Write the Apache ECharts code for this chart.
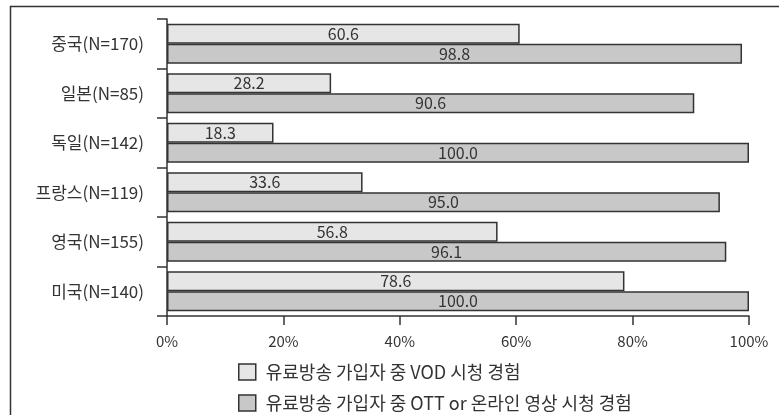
<!DOCTYPE html>
<html>
<head>
<meta charset="utf-8">
<script src="https://cdn.jsdelivr.net/npm/echarts@6/dist/echarts.min.js"></script>
<style>
  html, body { margin: 0; padding: 0; background: #fff; }
  #chart { width: 779px; height: 415px; }
</style>
</head>
<body>
<div id="chart"></div>
<script>
// Countries, top to bottom, with sample sizes
const categories = ['중국(N=170)', '일본(N=85)', '독일(N=142)', '프랑스(N=119)', '영국(N=155)', '미국(N=140)'];
// Share of pay-TV subscribers (%)
const vodValues = [60.6, 28.2, 18.3, 33.6, 56.8, 78.6];
const ottValues = [98.8, 90.6, 100.0, 95.0, 96.1, 100.0];
const seriesNames = ['유료방송 가입자 중 VOD 시청 경험', '유료방송 가입자 중 OTT or 온라인 영상 시청 경험'];
const xTicks = [0, 20, 40, 60, 80, 100];

const FONT = '"Noto Sans CJK KR", "Noto Sans", sans-serif';
const INK = '#333';

const barLabel = {
  show: true,
  position: 'inside',
  color: INK,
  fontFamily: FONT,
  fontSize: 16,
  formatter: p => p.value.toFixed(1)
};

const chart = echarts.init(document.getElementById('chart'), null, { renderer: 'canvas' });
chart.setOption({
  animation: false,
  backgroundColor: '#fff',
  graphic: [{
    type: 'rect',
    shape: { x: 10.5, y: 6.5, width: 900, height: 600 },
    style: { fill: 'none', stroke: INK, lineWidth: 1.5 },
    silent: true
  }],
  grid: { left: 167, top: 19, right: 30, height: 297 },
  xAxis: {
    type: 'value',
    min: 0, max: 100, interval: 20,
    axisLine: { show: true, lineStyle: { color: INK, width: 1.5 } },
    axisTick: { show: true, length: 9, inside: false, lineStyle: { color: INK, width: 1.5 } },
    splitLine: { show: false },
    axisLabel: {
      color: INK, fontFamily: FONT, fontSize: 15, margin: 18,
      formatter: v => xTicks.includes(v) ? v + '%' : ''
    }
  },
  yAxis: {
    type: 'category',
    inverse: true,
    data: categories,
    axisLine: { show: true, lineStyle: { color: INK, width: 1.5 } },
    axisTick: { show: true, length: 10, lineStyle: { color: INK, width: 1.5 } },
    axisLabel: { color: INK, fontFamily: FONT, fontSize: 17, margin: 23 }
  },
  legend: {
    orient: 'vertical',
    left: 238,
    top: 363,
    padding: 0,
    itemWidth: 17,
    itemHeight: 16,
    itemGap: 13,
    icon: 'rect',
    itemStyle: { borderColor: INK, borderWidth: 1.5 },
    textStyle: { color: INK, fontFamily: FONT, fontSize: 18, lineHeight: 16, padding: [0, 0, 0, 5] },
    data: seriesNames
  },
  series: [
    {
      name: seriesNames[0],
      type: 'bar',
      data: vodValues,
      barWidth: 20,
      barGap: '0%',
      itemStyle: { color: '#e6e6e6', borderColor: INK, borderWidth: 1.5 },
      label: barLabel
    },
    {
      name: seriesNames[1],
      type: 'bar',
      data: ottValues,
      barWidth: 20,
      barGap: '0%',
      itemStyle: { color: '#c8c8c8', borderColor: INK, borderWidth: 1.5 },
      label: barLabel
    }
  ]
});
</script>
</body>
</html>
